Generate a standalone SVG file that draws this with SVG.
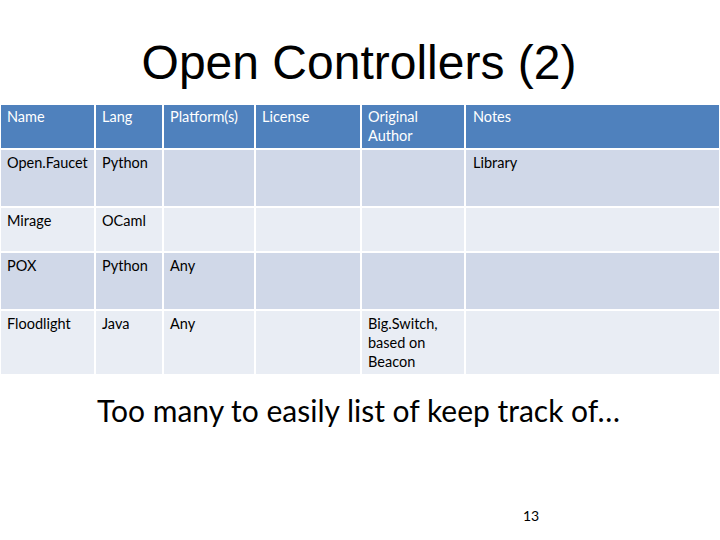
<svg xmlns="http://www.w3.org/2000/svg" width="720" height="540" viewBox="0 0 720 540">
<style>
.h{fill:#4F81BD}.d{fill:#D0D8E8}.l{fill:#E9EDF4}
.th{font-family:Lato,"Open Sans",sans-serif;font-size:14.5px;fill:#fff}
.td{font-family:Lato,"Open Sans",sans-serif;font-size:14.5px;fill:#000}
</style>
<rect width="720" height="540" fill="#fff"/>
<text x="359" y="79" text-anchor="middle" font-family="Liberation Sans,Arial,sans-serif" font-size="48">Open Controllers (2)</text>
<g id="table" stroke="#fff" stroke-width="2">
<g id="header">
<rect class="h" x="0" y="104" width="95" height="45"/><rect class="h" x="95" y="104" width="68" height="45"/><rect class="h" x="163" y="104" width="92" height="45"/><rect class="h" x="255" y="104" width="106" height="45"/><rect class="h" x="361" y="104" width="104" height="45"/><rect class="h" x="465" y="104" width="255" height="45"/>
</g>
<g id="r1">
<rect class="d" x="0" y="149" width="95" height="58"/><rect class="d" x="95" y="149" width="68" height="58"/><rect class="d" x="163" y="149" width="92" height="58"/><rect class="d" x="255" y="149" width="106" height="58"/><rect class="d" x="361" y="149" width="104" height="58"/><rect class="d" x="465" y="149" width="255" height="58"/>
</g>
<g id="r2">
<rect class="l" x="0" y="207" width="95" height="45"/><rect class="l" x="95" y="207" width="68" height="45"/><rect class="l" x="163" y="207" width="92" height="45"/><rect class="l" x="255" y="207" width="106" height="45"/><rect class="l" x="361" y="207" width="104" height="45"/><rect class="l" x="465" y="207" width="255" height="45"/>
</g>
<g id="r3">
<rect class="d" x="0" y="252" width="95" height="58"/><rect class="d" x="95" y="252" width="68" height="58"/><rect class="d" x="163" y="252" width="92" height="58"/><rect class="d" x="255" y="252" width="106" height="58"/><rect class="d" x="361" y="252" width="104" height="58"/><rect class="d" x="465" y="252" width="255" height="58"/>
</g>
<g id="r4">
<rect class="l" x="0" y="310" width="95" height="65"/><rect class="l" x="95" y="310" width="68" height="65"/><rect class="l" x="163" y="310" width="92" height="65"/><rect class="l" x="255" y="310" width="106" height="65"/><rect class="l" x="361" y="310" width="104" height="65"/><rect class="l" x="465" y="310" width="255" height="65"/>
</g>
</g>
<g id="texts">
<text class="th" x="7" y="122">Name</text><text class="th" x="102" y="122">Lang</text><text class="th" x="170" y="122">Platform(s)</text><text class="th" x="262" y="122">License</text><text class="th" x="368" y="122">Original</text><text class="th" x="368" y="141">Author</text><text class="th" x="473" y="122">Notes</text>
<text class="td" x="7" y="168">Open.Faucet</text><text class="td" x="102" y="168">Python</text><text class="td" x="473" y="168">Library</text>
<text class="td" x="7" y="226">Mirage</text><text class="td" x="102" y="226">OCaml</text>
<text class="td" x="7" y="271">POX</text><text class="td" x="102" y="271">Python</text><text class="td" x="170" y="271">Any</text>
<text class="td" x="7" y="329">Floodlight</text><text class="td" x="102" y="329">Java</text><text class="td" x="170" y="329">Any</text><text class="td" x="368" y="329">Big.Switch,</text><text class="td" x="368" y="348">based on</text><text class="td" x="368" y="367">Beacon</text>
</g>
<text x="97" y="422" font-family="Lato,'Open Sans',sans-serif" font-size="30">Too many to easily list of keep track of…</text>
<text x="523" y="521" font-family="Lato,'Open Sans',sans-serif" font-size="14">13</text>
</svg>
